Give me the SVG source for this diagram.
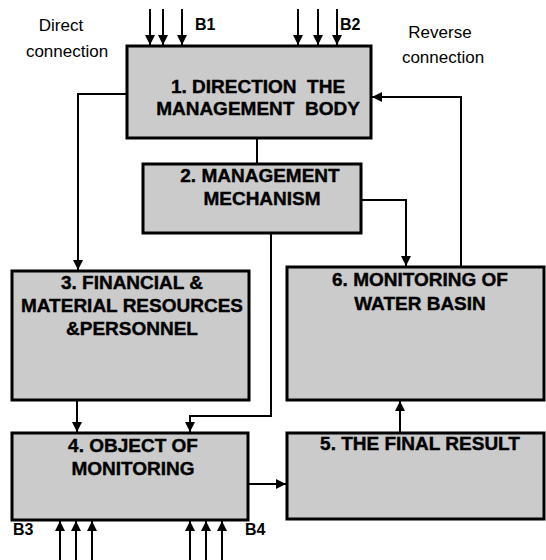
<svg xmlns="http://www.w3.org/2000/svg" width="546" height="560" viewBox="0 0 546 560">
<style>
.box{fill:#cbcbcb;stroke:#000;stroke-width:3}
.t{font-family:"Liberation Sans",Arial,sans-serif;font-weight:bold;font-size:19px;fill:#000;stroke:#000;stroke-width:0.4;text-anchor:middle;white-space:pre}
.lbl{font-family:"Liberation Sans",Arial,sans-serif;font-size:17px;fill:#000;text-anchor:middle}
.bl{font-family:"Liberation Sans",Arial,sans-serif;font-weight:bold;font-size:16px;fill:#000}
.c{fill:none;stroke:#000;stroke-width:2}
</style>
<defs>
<marker id="ah" viewBox="0 0 10 10" refX="10" refY="5" markerWidth="5" markerHeight="5" orient="auto" markerUnits="strokeWidth">
<path d="M0,0 L10,5 L0,10 z" fill="#000"/>
</marker>
</defs>
<rect width="546" height="560" fill="#fff"/>
<g id="labels">
<text class="lbl" x="61" y="31">Direct</text>
<text class="lbl" x="67" y="57">connection</text>
<text class="lbl" x="440" y="38">Reverse</text>
<text class="lbl" x="443" y="63">connection</text>
<text class="bl" x="195" y="30">B1</text>
<text class="bl" x="340" y="30">B2</text>
<text class="bl" x="13" y="535">B3</text>
<text class="bl" x="245" y="535">B4</text>
</g>
<g id="node1">
<rect class="box" x="127" y="46" width="244" height="92"/>
<text class="t" x="258" y="93" xml:space="preserve">1. DIRECTION  THE</text>
<text class="t" x="258" y="115" xml:space="preserve">MANAGEMENT  BODY</text>
</g>
<g id="node2">
<rect class="box" x="143" y="164" width="218" height="69"/>
<text class="t" x="260" y="182">2. MANAGEMENT</text>
<text class="t" x="262" y="205">MECHANISM</text>
</g>
<g id="node3">
<rect class="box" x="12" y="271" width="237" height="129"/>
<text class="t" x="132" y="289">3. FINANCIAL &amp;</text>
<text class="t" x="132" y="312">MATERIAL RESOURCES</text>
<text class="t" x="132" y="335">&amp;PERSONNEL</text>
</g>
<g id="node6">
<rect class="box" x="287" y="267" width="257" height="133"/>
<text class="t" x="420" y="286">6. MONITORING OF</text>
<text class="t" x="420" y="310">WATER BASIN</text>
</g>
<g id="node4">
<rect class="box" x="12" y="433" width="236" height="87"/>
<text class="t" x="133" y="452">4. OBJECT OF</text>
<text class="t" x="133" y="475">MONITORING</text>
</g>
<g id="node5">
<rect class="box" x="287" y="433" width="257" height="86"/>
<text class="t" x="420" y="450">5. THE FINAL RESULT</text>
</g>
<g id="connectors">
<path class="c" d="M150,9 V45" marker-end="url(#ah)"/>
<path class="c" d="M163,9 V45" marker-end="url(#ah)"/>
<path class="c" d="M182,9 V45" marker-end="url(#ah)"/>
<path class="c" d="M298,9 V45" marker-end="url(#ah)"/>
<path class="c" d="M318,9 V45" marker-end="url(#ah)"/>
<path class="c" d="M337,9 V45" marker-end="url(#ah)"/>
<path class="c" d="M127,94 H78 V270" marker-end="url(#ah)"/>
<path class="c" d="M257,138 V164"/>
<path class="c" d="M461,267 V97 H372" marker-end="url(#ah)"/>
<path class="c" d="M361,200 H406 V266" marker-end="url(#ah)"/>
<path class="c" d="M271,233 V416 H190 V432" marker-end="url(#ah)"/>
<path class="c" d="M77,400 V432" marker-end="url(#ah)"/>
<path class="c" d="M400,433 V401" marker-end="url(#ah)"/>
<path class="c" d="M248,484 H286" marker-end="url(#ah)"/>
<path class="c" d="M60,560 V521" marker-end="url(#ah)"/>
<path class="c" d="M76,560 V521" marker-end="url(#ah)"/>
<path class="c" d="M92,560 V521" marker-end="url(#ah)"/>
<path class="c" d="M190,560 V521" marker-end="url(#ah)"/>
<path class="c" d="M206,560 V521" marker-end="url(#ah)"/>
<path class="c" d="M222,560 V521" marker-end="url(#ah)"/>
</g>
</svg>
